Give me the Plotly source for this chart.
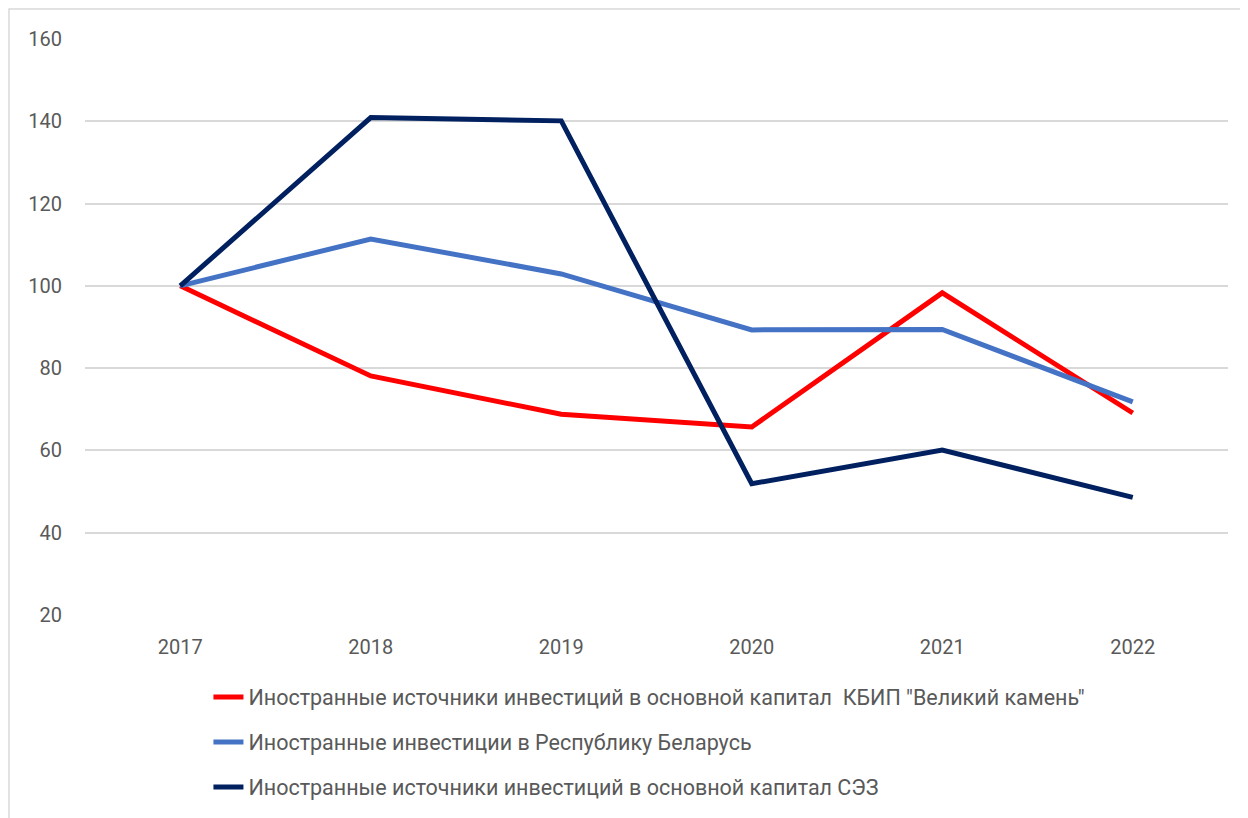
import plotly.graph_objects as go

years = ["2017", "2018", "2019", "2020", "2021", "2022"]
kbip = [100, 78.1, 68.8, 65.7, 98.3, 69.1]
belarus = [100, 111.4, 102.9, 89.3, 89.4, 71.8]
sez = [100, 140.9, 140.1, 51.9, 60.1, 48.6]

names = [
    "Иностранные источники инвестиций в основной капитал\u00a0 КБИП \"Великий камень\"",
    "Иностранные инвестиции в Республику Беларусь",
    "Иностранные источники инвестиций в основной капитал СЭЗ",
]
colors = ["#FF0000", "#4472C4", "#002060"]
series = [kbip, belarus, sez]

fig = go.Figure()
for i, (n, c, s) in enumerate(zip(names, colors, series)):
    fig.add_trace(go.Scatter(x=years, y=s, name=n, mode="lines",
                             line=dict(color=c, width=5), legendgroup=str(i)))

text_color = "#595959"
fig.update_layout(
    width=1248, height=818,
    margin=dict(l=77, r=28, t=31, b=211, autoexpand=False),
    paper_bgcolor="white", plot_bgcolor="white",
    font=dict(family="Roboto, Noto Sans, sans-serif", color=text_color, size=20),
    showlegend=True,
    legend=dict(orientation="v", x=0.108, xanchor="left", y=-0.107, yanchor="top",
                font=dict(size=21.5, color=text_color), tracegroupgap=14,
                bgcolor="rgba(0,0,0,0)"),
    xaxis=dict(type="category", range=[-0.5, 5.5], showgrid=False, showline=False,
               zeroline=False, ticks="", ticklabelstandoff=18,
               tickfont=dict(size=20, color=text_color)),
    yaxis=dict(range=[20, 160], dtick=20, tick0=20, showgrid=True, gridcolor="#D9D9D9",
               gridwidth=1.5, zeroline=False, showline=False, ticks="",
               ticklabelstandoff=22, tickfont=dict(size=20, color=text_color)),
    shapes=[dict(type="rect", xref="paper", yref="paper",
                 x0=-0.0665, x1=1.05, y0=-0.5, y1=1.052,
                 line=dict(color="#D9D9D9", width=1.5), fillcolor="rgba(0,0,0,0)",
                 layer="below")],
)
fig.write_html("out.html")
